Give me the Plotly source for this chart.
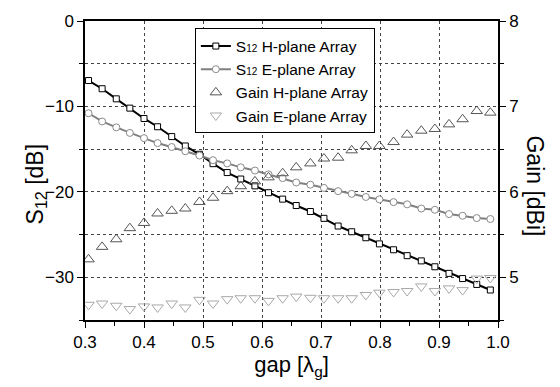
import plotly.graph_objects as go

gap = [0.306, 0.329, 0.353, 0.376, 0.400, 0.423, 0.447, 0.470, 0.494, 0.517,
       0.541, 0.564, 0.588, 0.611, 0.635, 0.658, 0.682, 0.705, 0.729, 0.752,
       0.776, 0.799, 0.823, 0.846, 0.870, 0.893, 0.917, 0.940, 0.964, 0.987]

s12_h = [-6.97, -7.93, -9.11, -10.2, -11.41, -12.38, -13.53, -14.63, -15.6, -16.7,
         -17.74, -18.5, -19.3, -20.1, -20.85, -21.6, -22.3, -23.1, -24.0, -24.67,
         -25.37, -26.09, -26.78, -27.47, -28.08, -28.77, -29.54, -30.15, -30.84, -31.49]

s12_e = [-10.8, -11.76, -12.45, -13.1, -13.71, -14.29, -14.75, -15.25, -15.75, -16.29,
         -16.67, -17.13, -17.5, -17.95, -18.39, -18.9, -19.16, -19.54, -19.92, -20.23,
         -20.6, -20.88, -21.2, -21.46, -21.95, -22.1, -22.6, -22.8, -23.07, -23.18]

gain_h = [5.21, 5.356, 5.445, 5.575, 5.636, 5.747, 5.778, 5.805, 5.882, 5.931,
          6.008, 6.066, 6.123, 6.17, 6.218, 6.287, 6.333, 6.39, 6.40, 6.486,
          6.537, 6.537, 6.583, 6.67, 6.716, 6.736, 6.79, 6.85, 6.946, 6.927]

gain_e = [4.678, 4.693, 4.667, 4.628, 4.659, 4.647, 4.693, 4.647, 4.736, 4.693,
          4.744, 4.755, 4.755, 4.724, 4.755, 4.774, 4.76, 4.755, 4.755, 4.755,
          4.793, 4.82, 4.828, 4.839, 4.893, 4.839, 4.87, 4.85, 4.985, 4.992]

FONT = "Arial, Liberation Sans, sans-serif"
SUB = "<span style='font-size:10px'>12</span>"

fig = go.Figure()
fig.add_trace(go.Scatter(
    x=gap, y=s12_h, mode="lines+markers", name="S" + SUB + " H-plane Array",
    line=dict(color="black", width=2),
    marker=dict(symbol="square", size=6, color="white", line=dict(color="black", width=1))))
fig.add_trace(go.Scatter(
    x=gap, y=s12_e, mode="lines+markers", name="S" + SUB + " E-plane Array",
    line=dict(color="#808080", width=2),
    marker=dict(symbol="circle", size=7, color="white", line=dict(color="#8a8a8a", width=1))))
fig.add_trace(go.Scatter(
    x=gap, y=gain_h, mode="markers", name="Gain H-plane Array", yaxis="y2",
    marker=dict(symbol="triangle-up-open", size=10, color="#555555", line=dict(width=1))))
fig.add_trace(go.Scatter(
    x=gap, y=gain_e, mode="markers", name="Gain E-plane Array", yaxis="y2",
    marker=dict(symbol="triangle-down-open", size=10, color="#a8a8a8", line=dict(width=1))))

fig.update_layout(
    width=560, height=387,
    margin=dict(l=85, r=62, t=15, b=67),
    paper_bgcolor="white", plot_bgcolor="white",
    font=dict(family=FONT, size=17, color="black"),
    showlegend=True,
    legend=dict(x=0.266, y=0.975, xanchor="left", yanchor="top",
                bgcolor="white", bordercolor="black", borderwidth=1,
                font=dict(family=FONT, size=15.5, color="black"),
                tracegroupgap=0, itemwidth=30),
    xaxis=dict(range=[0.3, 1.0], dtick=0.1, tick0=0.3, tickformat=".1f",
               showline=True, linecolor="black", linewidth=1.5, mirror=True,
               ticks="outside", ticklen=6, tickcolor="black",
               showgrid=True, gridcolor="#444444", griddash="dot", gridwidth=1,
               zeroline=False,
               minor=dict(dtick=0.05, ticks="outside", ticklen=4, tickcolor="black", showgrid=False),
               title=dict(text="gap [λ<sub>g</sub>]", font=dict(size=22), standoff=4)),
    yaxis=dict(range=[-35, 0], dtick=10, tick0=0,
               showline=True, linecolor="black", linewidth=1.5, mirror=True,
               ticks="outside", ticklen=6, tickcolor="black",
               showgrid=True, gridcolor="#444444", griddash="dot", gridwidth=1,
               zeroline=False,
               minor=dict(dtick=5, tick0=0, ticks="outside", ticklen=4, tickcolor="black",
                          showgrid=True, gridcolor="#444444", griddash="dot", gridwidth=1)),
    yaxis2=dict(range=[4.5, 8], dtick=1, tick0=5, overlaying="y", side="right",
                showline=True, linecolor="black", linewidth=1.5,
                ticks="outside", ticklen=6, tickcolor="black",
                showgrid=False, zeroline=False,
                minor=dict(dtick=0.5, tick0=5, ticks="outside", ticklen=4, tickcolor="black",
                           showgrid=False)),
    annotations=[
        dict(text="S<sub>12</sub> [dB]", textangle=-90, xref="paper", yref="paper",
             x=0.0, xshift=-65, y=0.455, showarrow=False,
             font=dict(family=FONT, size=23, color="black")),
        dict(text="Gain [dBi]", textangle=90, xref="paper", yref="paper",
             x=1.0, xshift=52, y=0.45, showarrow=False,
             font=dict(family=FONT, size=23, color="black")),
    ],
)

fig.write_html("out.html")
